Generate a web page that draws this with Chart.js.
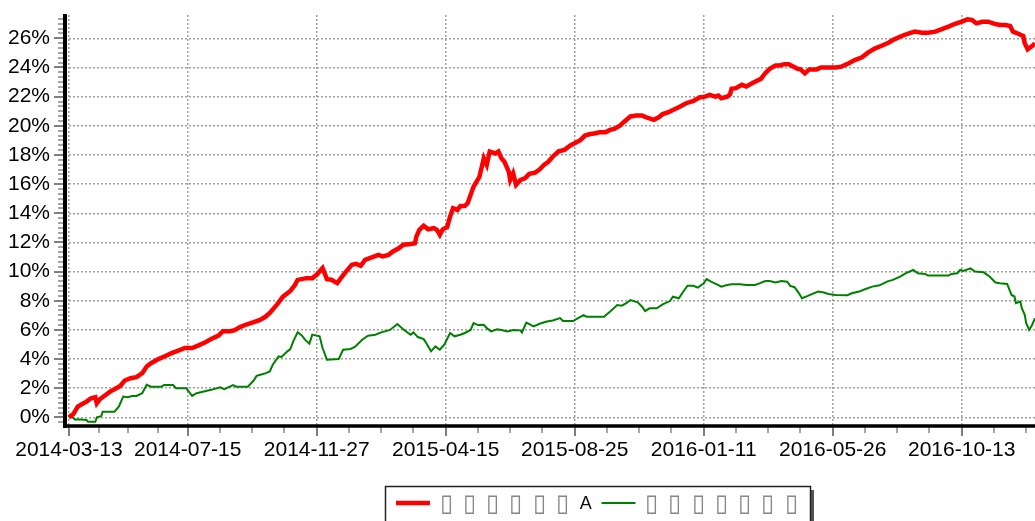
<!DOCTYPE html>
<html>
<head>
<meta charset="utf-8">
<script src="https://cdn.jsdelivr.net/npm/chart.js@4"></script>
<style>
html, body { margin: 0; padding: 0; background: #fff; }
</style>
</head>
<body>
<canvas id="returnChart" width="1035" height="521"></canvas>
<script>
// x is the trading-day index counted from 2014-03-13
const strategyDays = [0, 3, 6, 9, 12, 15, 18, 19, 21, 25, 28, 31, 35, 38, 42, 46, 50, 53, 56, 61, 65, 70, 75, 79, 84, 88, 93, 97, 102, 105, 110, 113, 117, 121, 126, 130, 134, 137, 142, 146, 151, 154, 156, 162, 166, 169, 173, 176, 179, 183, 186, 189, 193, 196, 199, 202, 207, 211, 214, 218, 221, 225, 228, 233, 236, 237, 239, 242, 245, 249, 251, 253, 255, 258, 260, 262, 265, 267, 270, 272, 276, 280, 283, 285, 287, 291, 293, 295, 297, 300, 301, 303, 305, 308, 311, 314, 318, 321, 324, 327, 330, 334, 338, 342, 345, 349, 352, 355, 359, 362, 366, 369, 372, 376, 379, 383, 387, 391, 394, 399, 402, 405, 409, 412, 417, 421, 426, 430, 434, 437, 441, 443, 445, 449, 451, 452, 455, 459, 462, 466, 469, 472, 475, 478, 482, 485, 488, 491, 494, 497, 499, 502, 505, 510, 513, 518, 523, 527, 532, 536, 541, 545, 550, 554, 559, 563, 568, 573, 577, 582, 586, 591, 595, 600, 604, 609, 613, 616, 619, 623, 627, 632, 635, 639, 642, 644, 648, 651, 652, 654, 657, 659];
const strategyValues = [0, 0.23, 0.74, 0.92, 1.08, 1.31, 1.38, 0.97, 1.24, 1.54, 1.77, 1.93, 2.16, 2.53, 2.69, 2.76, 3.03, 3.49, 3.72, 4.0, 4.18, 4.41, 4.6, 4.76, 4.76, 4.92, 5.15, 5.38, 5.61, 5.91, 5.91, 5.98, 6.21, 6.37, 6.53, 6.67, 6.9, 7.17, 7.75, 8.28, 8.67, 9.06, 9.43, 9.55, 9.55, 9.78, 10.24, 9.48, 9.44, 9.21, 9.62, 10.0, 10.47, 10.53, 10.4, 10.8, 10.99, 11.15, 11.04, 11.15, 11.38, 11.6, 11.84, 11.9, 11.95, 12.4, 12.86, 13.14, 12.9, 12.98, 12.86, 12.52, 12.9, 13.05, 13.78, 14.35, 14.23, 14.5, 14.5, 14.7, 15.83, 16.5, 17.77, 17.32, 18.23, 18.1, 18.23, 17.77, 17.55, 16.86, 16.29, 16.74, 15.95, 16.29, 16.4, 16.7, 16.79, 17.0, 17.32, 17.53, 17.88, 18.25, 18.35, 18.65, 18.81, 19.03, 19.33, 19.42, 19.49, 19.56, 19.56, 19.72, 19.79, 20.02, 20.3, 20.64, 20.7, 20.7, 20.57, 20.41, 20.57, 20.8, 20.93, 21.09, 21.32, 21.55, 21.71, 21.94, 22.0, 22.12, 22.0, 22.07, 21.89, 22.0, 22.17, 22.54, 22.58, 22.81, 22.7, 22.92, 23.08, 23.22, 23.61, 23.91, 24.14, 24.14, 24.23, 24.23, 24.07, 23.91, 23.87, 23.6, 23.87, 23.87, 24.0, 24.0, 24.0, 24.06, 24.29, 24.51, 24.7, 25.02, 25.31, 25.47, 25.7, 25.93, 26.16, 26.34, 26.46, 26.39, 26.39, 26.46, 26.62, 26.8, 26.98, 27.14, 27.3, 27.26, 27.03, 27.14, 27.14, 26.98, 26.91, 26.91, 26.85, 26.46, 26.3, 26.16, 25.66, 25.25, 25.47, 25.66];

const benchmarkDays = [0, 1, 4, 8, 12, 13, 18, 19, 22, 23, 31, 34, 37, 40, 43, 46, 50, 53, 56, 63, 65, 71, 73, 80, 84, 87, 92, 97, 103, 106, 112, 114, 122, 126, 128, 133, 137, 139, 143, 145, 149, 151, 153, 156, 159, 161, 164, 166, 171, 173, 176, 184, 187, 192, 195, 200, 204, 209, 213, 219, 224, 228, 233, 235, 238, 242, 244, 247, 250, 253, 256, 260, 263, 267, 270, 274, 276, 279, 283, 285, 288, 292, 295, 299, 303, 308, 309, 312, 317, 321, 326, 330, 335, 337, 344, 347, 351, 353, 365, 369, 374, 377, 380, 383, 388, 391, 393, 396, 401, 405, 410, 412, 416, 419, 422, 426, 429, 433, 435, 438, 442, 445, 449, 452, 458, 462, 468, 471, 475, 478, 482, 486, 490, 492, 495, 498, 500, 504, 508, 511, 515, 518, 523, 531, 534, 539, 543, 548, 553, 558, 562, 567, 571, 576, 579, 584, 586, 600, 602, 606, 608, 610, 615, 618, 624, 628, 632, 635, 640, 643, 645, 646, 649, 650, 652, 653, 655, 657, 659];
const benchmarkValues = [0, 0.14, -0.14, -0.14, -0.18, -0.3, -0.3, 0, 0.09, 0.39, 0.39, 0.74, 1.43, 1.38, 1.47, 1.47, 1.66, 2.23, 2.11, 2.11, 2.23, 2.23, 2.0, 2.0, 1.47, 1.66, 1.77, 1.89, 2.07, 1.93, 2.21, 2.11, 2.11, 2.53, 2.85, 2.99, 3.15, 3.61, 4.18, 4.14, 4.53, 4.69, 5.22, 5.84, 5.61, 5.33, 5.06, 5.68, 5.56, 4.76, 3.96, 4.0, 4.64, 4.69, 4.83, 5.33, 5.6, 5.67, 5.83, 6.0, 6.4, 6.05, 5.67, 5.83, 5.51, 5.37, 5.05, 4.53, 4.87, 4.64, 4.99, 5.79, 5.56, 5.67, 5.79, 6.0, 6.47, 6.33, 6.35, 6.12, 5.9, 6.05, 6.0, 5.9, 6.0, 5.97, 5.83, 6.5, 6.24, 6.42, 6.58, 6.65, 6.81, 6.61, 6.61, 6.79, 7.02, 6.91, 6.91, 7.25, 7.71, 7.66, 7.82, 8.05, 7.89, 7.59, 7.29, 7.48, 7.48, 7.75, 7.98, 8.28, 8.17, 8.62, 9.03, 9.03, 8.9, 9.19, 9.49, 9.31, 9.13, 8.97, 9.08, 9.13, 9.13, 9.08, 9.08, 9.19, 9.35, 9.35, 9.26, 9.35, 9.31, 9.02, 8.93, 8.51, 8.17, 8.33, 8.51, 8.63, 8.56, 8.47, 8.4, 8.38, 8.51, 8.63, 8.79, 8.97, 9.06, 9.31, 9.43, 9.66, 9.89, 10.11, 9.89, 9.84, 9.73, 9.73, 9.84, 9.89, 10.11, 10.04, 10.22, 10.0, 9.95, 9.66, 9.25, 9.2, 9.15, 8.4, 8.29, 7.83, 7.94, 7.49, 7.03, 6.46, 6.0, 6.34, 6.8];

const tickDays = [0, 81, 169, 257, 345, 433, 521, 609];
const tickLabels = ['2014-03-13', '2014-07-15', '2014-11-27', '2015-04-15', '2015-08-25', '2016-01-11', '2016-05-26', '2016-10-13'];
const yTicks = [0, 2, 4, 6, 8, 10, 12, 14, 16, 18, 20, 22, 24, 26];
const seriesNames = ['\u25AF \u25AF \u25AF \u25AF \u25AF \u25AF A', '\u25AF \u25AF \u25AF \u25AF \u25AF \u25AF \u25AF'];

const FONT = 'Liberation Sans, Arial, sans-serif';

function toPoints(days, values) {
    return days.map((d, i) => ({ x: d, y: values[i] }));
}

// axis lines, major/minor tick marks and the boxed legend
const framePlugin = {
    id: 'framePlugin',
    afterDraw(chart) {
        const ctx = chart.ctx;
        const area = chart.chartArea;
        const xs = chart.scales.x;
        const ys = chart.scales.y;
        ctx.save();
        ctx.lineWidth = 2;

        for (let i = -1; i <= 83; i++) {
            const v = i / 3;
            if (v < ys.min || v > ys.max) continue;
            const y = Math.round(ys.getPixelForValue(v));
            const major = i % 6 === 0;
            ctx.strokeStyle = major ? '#7f7f7f' : '#a6a6a6';
            ctx.beginPath();
            ctx.moveTo(area.left - (major ? 11 : 7), y);
            ctx.lineTo(area.left, y);
            ctx.stroke();
        }

        const minor = [];
        for (let k = 0; k < tickDays.length; k++) {
            const step = k < tickDays.length - 1 ? (tickDays[k + 1] - tickDays[k]) / 4 : 22;
            for (let q = 1; q < 4; q++) minor.push(tickDays[k] + q * step);
        }
        ctx.strokeStyle = '#a6a6a6';
        minor.forEach(d => {
            if (d > xs.max) return;
            const x = Math.round(xs.getPixelForValue(d));
            ctx.beginPath();
            ctx.moveTo(x, area.bottom);
            ctx.lineTo(x, area.bottom + 7);
            ctx.stroke();
        });
        ctx.strokeStyle = '#7f7f7f';
        tickDays.forEach(d => {
            const x = Math.round(xs.getPixelForValue(d));
            ctx.beginPath();
            ctx.moveTo(x, area.bottom);
            ctx.lineTo(x, area.bottom + 10);
            ctx.stroke();
        });

        ctx.strokeStyle = '#000';
        ctx.lineWidth = 3.5;
        ctx.beginPath();
        ctx.moveTo(area.left - 2, area.bottom);
        ctx.lineTo(area.right, area.bottom);
        ctx.stroke();
        ctx.lineWidth = 4;
        ctx.beginPath();
        ctx.moveTo(area.left, area.top - 1);
        ctx.lineTo(area.left, area.bottom + 2);
        ctx.stroke();

        // legend
        const lx = 385, ly = 486, lw = 425, lh = 40, cy = 503;
        ctx.fillStyle = '#555';
        ctx.fillRect(lx + 4, ly + 4, lw, lh);
        ctx.fillStyle = '#fff';
        ctx.fillRect(lx, ly, lw, lh);
        ctx.strokeStyle = '#222';
        ctx.lineWidth = 1.5;
        ctx.strokeRect(lx + 0.5, ly + 0.5, lw, lh);
        ctx.textBaseline = 'middle';
        ctx.textAlign = 'center';
        const cell = 11.65;
        let x = lx + 11;
        chart.data.datasets.forEach(ds => {
            ctx.strokeStyle = ds.borderColor;
            ctx.lineWidth = ds.borderWidth;
            ctx.beginPath();
            ctx.moveTo(x, cy);
            ctx.lineTo(x + 34, cy);
            ctx.stroke();
            x += 44;
            Array.from(ds.label).forEach((ch, i) => {
                if (ch === ' ') return;
                const box = ch === '\u25AF';
                ctx.font = (box ? '24px ' : '18px ') + FONT;
                ctx.fillStyle = box ? '#888' : '#111';
                ctx.fillText(ch, x + i * cell + 6, cy + 1);
            });
            x += ds.label.length * cell + 10;
        });
        ctx.restore();
    }
};

document.addEventListener('DOMContentLoaded', function () {
    new Chart(document.getElementById('returnChart').getContext('2d'), {
        type: 'line',
        data: {
            datasets: [{
                label: seriesNames[0],
                data: toPoints(strategyDays, strategyValues),
                borderColor: '#ff0000',
                borderWidth: 4.5,
                pointRadius: 0,
                tension: 0
            }, {
                label: seriesNames[1],
                data: toPoints(benchmarkDays, benchmarkValues),
                borderColor: '#008000',
                borderWidth: 2,
                pointRadius: 0,
                tension: 0
            }]
        },
        options: {
            responsive: false,
            animation: false,
            layout: { padding: { top: 15, left: 0, right: 0, bottom: 55 } },
            plugins: {
                legend: { display: false },
                tooltip: { enabled: false }
            },
            scales: {
                x: {
                    type: 'linear',
                    min: -2.7,
                    max: 659,
                    afterBuildTicks: scale => { scale.ticks = tickDays.map(v => ({ value: v })); },
                    afterFit: scale => {
                        scale.height = 40;
                        scale.paddingLeft = 0;
                        scale.paddingRight = 0;
                    },
                    grid: { color: '#a0a0a0', lineWidth: 1.5, drawTicks: false },
                    border: { display: false, dash: [2, 2] },
                    ticks: {
                        autoSkip: false,
                        maxRotation: 0,
                        padding: 12,
                        color: '#000',
                        font: { family: FONT, size: 21 },
                        callback: (value, index) => tickLabels[index]
                    }
                },
                y: {
                    min: -0.59,
                    max: 27.6,
                    afterBuildTicks: scale => { scale.ticks = yTicks.map(v => ({ value: v })); },
                    afterFit: scale => {
                        scale.width = 65;
                        scale.paddingTop = 0;
                        scale.paddingBottom = 0;
                    },
                    grid: { color: '#a0a0a0', lineWidth: 1.5, drawTicks: false },
                    border: { display: false, dash: [2, 2] },
                    ticks: {
                        padding: 15,
                        color: '#000',
                        font: { family: FONT, size: 21 },
                        callback: value => value + '%'
                    }
                }
            }
        },
        plugins: [framePlugin]
    });
});
</script>
</body>
</html>
